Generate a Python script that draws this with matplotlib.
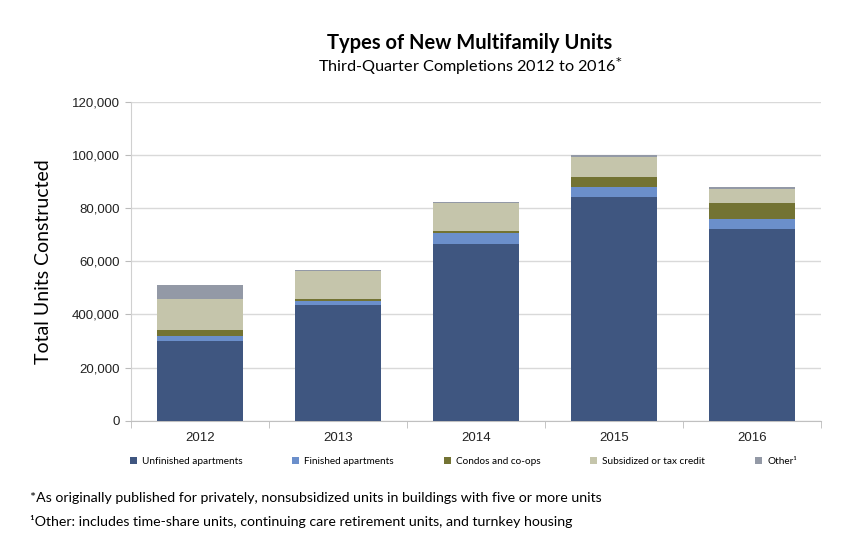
import matplotlib.pyplot as plt
from matplotlib.patches import Patch
from matplotlib.ticker import FixedLocator

years = ["2012", "2013", "2014", "2015", "2016"]
unfinished = [29900, 43400, 66600, 84100, 72300]
finished = [2100, 1500, 3900, 3700, 3500]
condos = [2300, 900, 1000, 4000, 6300]
subsidized = [11500, 10500, 10300, 7400, 5300]
other = [5400, 400, 600, 750, 600]

series = [
    ("Unfinished apartments", unfinished, "#3f5680"),
    ("Finished apartments", finished, "#6b8fcb"),
    ("Condos and co-ops", condos, "#737333"),
    ("Subsidized or tax credit", subsidized, "#c5c5ab"),
    ("Other\u00b9", other, "#9399a6"),
]
y_ticks = [0, 20000, 40000, 60000, 80000, 100000, 120000]
y_labels = ["0", "20,000", "400,000", "60,000", "80,000", "100,000", "120,000"]

fig = plt.figure(figsize=(8.5, 5.51), dpi=100)
ax = fig.add_axes([0.154, 0.2365, 0.812, 0.5785])

x = range(len(years))
bottom = [0] * len(years)
for name, vals, color in series:
    ax.bar(x, vals, width=0.62, bottom=bottom, color=color, label=name, zorder=3)
    bottom = [b + v for b, v in zip(bottom, vals)]

ax.set_xlim(-0.5, len(years) - 0.5)
ax.set_ylim(0, 120000)
ax.set_yticks(y_ticks)
ax.set_yticklabels(y_labels, fontsize=9.5, family="Liberation Sans", color="#222222")
ax.set_xticks(list(x))
ax.set_xticklabels(years, fontsize=9.5, family="Liberation Sans", color="#222222")
ax.xaxis.set_minor_locator(FixedLocator([i - 0.5 for i in range(len(years) + 1)]))
ax.tick_params(axis="x", which="major", length=0, pad=8)
ax.tick_params(axis="x", which="minor", length=5, color="#bbbbbb")
ax.tick_params(axis="y", length=4, color="#bbbbbb", pad=4)
ax.grid(axis="y", color="#d9d9d9", linewidth=1, zorder=0)
for side in ["top", "right"]:
    ax.spines[side].set_visible(False)
ax.spines["left"].set_color("#d0d0d0")
ax.spines["bottom"].set_color("#c0c0c0")

ax.set_ylabel("Total Units Constructed", fontsize=14, family="Lato", labelpad=14)

fig.text(0.553, 0.911, "Types of New Multifamily Units", ha="center",
         fontsize=14.5, fontweight="bold", family="Lato")
fig.text(0.553, 0.869, "Third-Quarter Completions 2012 to 2016$^{*}$", ha="center",
         fontsize=11.7, family="Lato")

handles = [Patch(facecolor=c, label=n) for n, _, c in series]
fig.legend(handles=handles, loc="center", bbox_to_anchor=(0.545, 0.162), ncol=5,
           frameon=False, handlelength=0.7, handleheight=0.7,
           handletextpad=0.5, columnspacing=5.0, prop={"family": "Lato", "size": 7.2})

fig.text(0.035, 0.089, "*As originally published for privately, nonsubsidized units in buildings with five or more units",
         fontsize=10.2, family="Lato")
fig.text(0.035, 0.045, "\u00b9Other: includes time-share units, continuing care retirement units, and turnkey housing",
         fontsize=10.2, family="Lato")

fig.savefig("out.png", dpi=100)
